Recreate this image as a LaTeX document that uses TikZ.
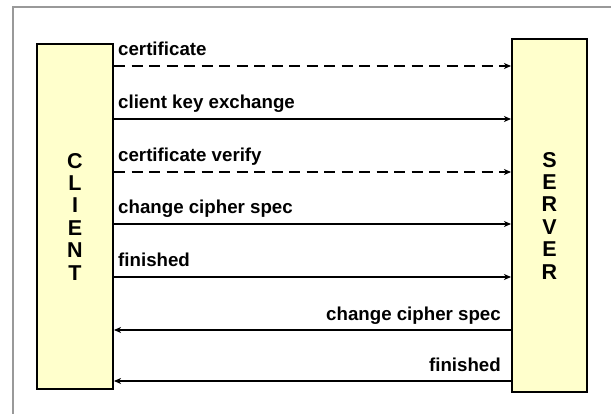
\documentclass[tikz,border=0pt]{standalone}
\usepackage{fontspec}
\setmainfont{Liberation Sans}
\usetikzlibrary{arrows.meta}
\definecolor{hostfill}{HTML}{FFFFCC}
\colorlet{frame}{black!40}
\tikzset{
  % node options
  host/.style={rectangle,draw,line width=2pt,fill=hostfill,align=center,
    inner sep=0pt,font=\fontsize{21.5}{22.4}\selectfont\bfseries},
  msgtext/.style={inner sep=0pt,font=\fontsize{18.7}{20}\selectfont\bfseries},
  % path options
  msg/.style={line width=1.2pt,-{Stealth[length=7pt,width=6pt,inset=2pt]}},
  msg optional/.style={msg,dash pattern=on 11pt off 6.5pt},
}

\begin{document}
\begin{tikzpicture}[x=1pt,y=-1pt]
  \useasboundingbox (0,0) rectangle (611,414);
  \draw[frame,line width=1.5pt] (13,414) -- (13,7) -- (611,7);

  \node[host,minimum width=76pt,minimum height=345pt] (client) at (75,216.5)
    {C\\L\\I\\E\\N\\T};
  \node[host,minimum width=75pt,minimum height=353pt] (server) at (549.5,215.5)
    {S\\E\\R\\V\\E\\R};

  % client to server
  \foreach \y/\txt/\kind in {66/certificate/msg optional,
                             119/client key exchange/msg,
                             172/certificate verify/msg optional,
                             224/change cipher spec/msg,
                             277/finished/msg} {
    \draw[\kind] (client.east |- 0,\y) -- (server.west |- 0,\y);
    \node[msgtext,anchor=base west] at ([xshift=4pt,yshift=10pt]client.east |- 0,\y) {\txt};
  }
  % server to client
  \foreach \y/\txt in {330/change cipher spec, 381/finished} {
    \draw[msg] (server.west |- 0,\y) -- (client.east |- 0,\y);
    \node[msgtext,anchor=base east] at ([xshift=-10pt,yshift=10pt]server.west |- 0,\y) {\txt};
  }
\end{tikzpicture}
\end{document}
